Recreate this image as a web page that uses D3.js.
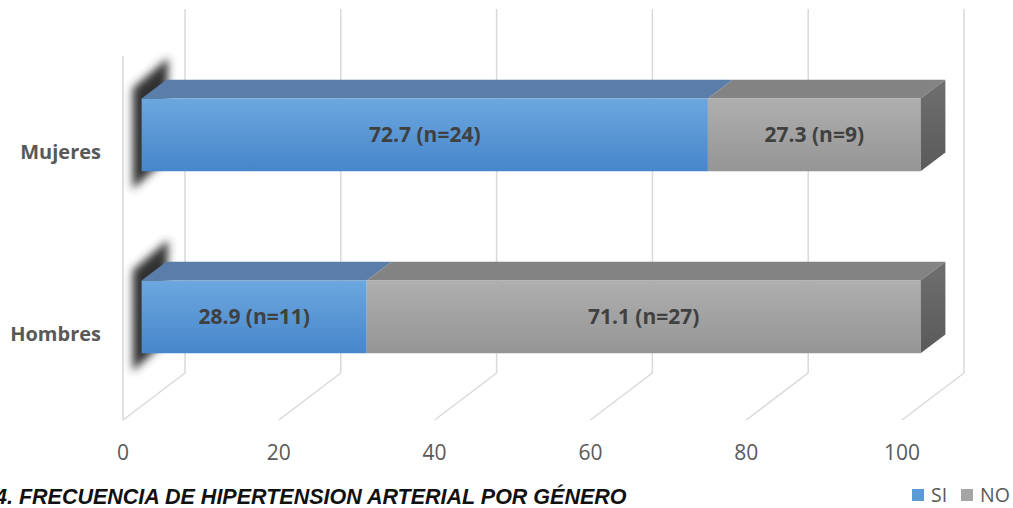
<!DOCTYPE html>
<html>
<head>
<meta charset="utf-8">
<script src="https://cdn.jsdelivr.net/npm/d3@7"></script>
<style>
  body { margin: 0; background: #fff; }
  svg { display: block; }
</style>
</head>
<body>
<div id="chart"></div>
<script>
// data
var categories = ["Mujeres", "Hombres"];
var siValues = [72.7, 28.9];
var noValues = [27.3, 71.1];
var siCounts = [24, 11];
var noCounts = [9, 27];
var ticks = [0, 20, 40, 60, 80, 100];
var seriesNames = ["SI", "NO"];
var title = "4. FRECUENCIA DE HIPERTENSION ARTERIAL POR GÉNERO";

var W = 1013, H = 508;
var svg = d3.select("#chart").append("svg").attr("width", W).attr("height", H);

// 3d setup: front plane + depth offset
var depthX = 62, depthY = -47;
var wallTop = 56, wallBottom = 420;
var x = d3.scaleLinear().domain([0, 100]).range([123, 902]);
var y = d3.scaleBand().domain(categories).range([58, 422]).paddingInner(0.6).paddingOuter(0.3);
var barD0 = 0.3, barD1 = 0.7;
function px(v, d) { return x(v) + depthX * d; }
function py(yy, d) { return yy + depthY * d; }

var defs = svg.append("defs");
function vgrad(id, c1, c2) {
  var g = defs.append("linearGradient").attr("id", id).attr("x1", 0).attr("y1", 0).attr("x2", 0).attr("y2", 1);
  g.append("stop").attr("offset", "0%").attr("stop-color", c1);
  g.append("stop").attr("offset", "100%").attr("stop-color", c2);
}
vgrad("siFront", "#6ca7df", "#4686ca");
vgrad("noFront", "#afafaf", "#959595");
vgrad("noSide", "#6f6f6f", "#5a5a5a");
defs.append("filter").attr("id", "blur").attr("x", "-50%").attr("y", "-50%").attr("width", "200%").attr("height", "200%")
  .append("feGaussianBlur").attr("stdDeviation", 4.5);

var grid = svg.append("g").attr("stroke", "#d9d9d9").attr("stroke-width", 1.5).attr("fill", "none");
// back wall gridlines + floor diagonals
ticks.forEach(function (t) {
  grid.append("line").attr("x1", px(t, 1)).attr("x2", px(t, 1)).attr("y1", py(wallTop, 1)).attr("y2", py(wallBottom, 1));
  grid.append("line").attr("x1", px(t, 0)).attr("x2", px(t, 1)).attr("y1", wallBottom).attr("y2", py(wallBottom, 1));
});
// left wall front edge
grid.append("line").attr("x1", px(0, 0)).attr("x2", px(0, 0)).attr("y1", wallTop).attr("y2", wallBottom);

// shadows of bar ends on the left wall
var shadows = svg.append("g").attr("filter", "url(#blur)");
categories.forEach(function (c) {
  var y0 = y(c), y1 = y(c) + y.bandwidth();
  var pts = [[px(0, barD0) - 9, py(y0, barD0) - 10], [px(0, barD1) + 2, py(y0, barD1) - 22],
             [px(0, barD1) - 2, py(y1, barD1) + 8], [px(0, barD0) - 9, py(y1, barD0) + 18]];
  shadows.append("polygon").attr("points", pts.map(function (p) { return p.join(","); }).join(" "))
    .attr("fill", "#303030");
});

var bars = svg.append("g");
var labels = svg.append("g");
function quad(p) { return p.map(function (q) { return q.join(","); }).join(" "); }

categories.forEach(function (c, i) {
  var y0 = y(c), y1 = y(c) + y.bandwidth();
  var segs = [
    { a: 0, b: siValues[i], front: "url(#siFront)", top: "#5a7ea9", text: siValues[i].toFixed(1) + " (n=" + siCounts[i] + ")" },
    { a: siValues[i], b: siValues[i] + noValues[i], front: "url(#noFront)", top: "#838383", text: noValues[i].toFixed(1) + " (n=" + noCounts[i] + ")" }
  ];
  segs.forEach(function (s) {
    bars.append("polygon").attr("fill", s.top).attr("points", quad([
      [px(s.a, barD0), py(y0, barD0)], [px(s.a, barD1), py(y0, barD1)],
      [px(s.b, barD1), py(y0, barD1)], [px(s.b, barD0), py(y0, barD0)]]));
    bars.append("polygon").attr("fill", s.front).attr("points", quad([
      [px(s.a, barD0), py(y0, barD0)], [px(s.b, barD0), py(y0, barD0)],
      [px(s.b, barD0), py(y1, barD0)], [px(s.a, barD0), py(y1, barD0)]]));
    labels.append("text")
      .attr("x", (px(s.a, barD0) + px(s.b, barD0)) / 2)
      .attr("y", py((y0 + y1) / 2, barD0))
      .attr("dy", "0.35em")
      .attr("text-anchor", "middle")
      .style("font-family", "'Open Sans', sans-serif")
      .style("font-weight", "bold")
      .style("font-size", "21px")
      .style("fill", "#404040")
      .text(s.text);
  });
  var end = segs[1].b;
  bars.append("polygon").attr("fill", "url(#noSide)").attr("points", quad([
    [px(end, barD0), py(y0, barD0)], [px(end, barD1), py(y0, barD1)],
    [px(end, barD1), py(y1, barD1)], [px(end, barD0), py(y1, barD0)]]));
});

// category labels
svg.append("g").selectAll("text").data(categories).join("text")
  .attr("x", 101)
  .attr("y", function (d) { return y(d) + y.bandwidth() / 2 + 3; })
  .attr("dy", "0.35em")
  .attr("text-anchor", "end")
  .style("font-family", "'Open Sans', sans-serif")
  .style("font-weight", "bold")
  .style("font-size", "20px")
  .style("fill", "#595959")
  .text(function (d) { return d; });

// value axis tick labels
svg.append("g").selectAll("text").data(ticks).join("text")
  .attr("x", function (d) { return x(d); })
  .attr("y", 453)
  .attr("dy", "0.35em")
  .attr("text-anchor", "middle")
  .style("font-family", "'Open Sans', sans-serif")
  .style("font-size", "21px")
  .style("fill", "#595959")
  .text(function (d) { return d; });

// title (cut at the left edge as in the source)
svg.append("text")
  .attr("x", -5).attr("y", 504)
  .style("font-family", "'Liberation Sans', Arial, sans-serif")
  .style("font-weight", "bold")
  .style("font-style", "italic")
  .style("font-size", "21.5px")
  .style("fill", "#111")
  .text(title);

// legend
var legendColors = ["#5b9bd5", "#a5a5a5"];
var lg = svg.append("g").attr("transform", "translate(912,489)");
var lx = [0, 49];
seriesNames.forEach(function (n, i) {
  lg.append("rect").attr("x", lx[i]).attr("y", 0).attr("width", 12).attr("height", 12).attr("fill", legendColors[i]);
  lg.append("text").attr("x", lx[i] + 19).attr("y", 6).attr("dy", "0.35em")
    .style("font-family", "'Open Sans', sans-serif").style("font-size", "19.5px").style("fill", "#595959")
    .text(n);
});
</script>
</body>
</html>
